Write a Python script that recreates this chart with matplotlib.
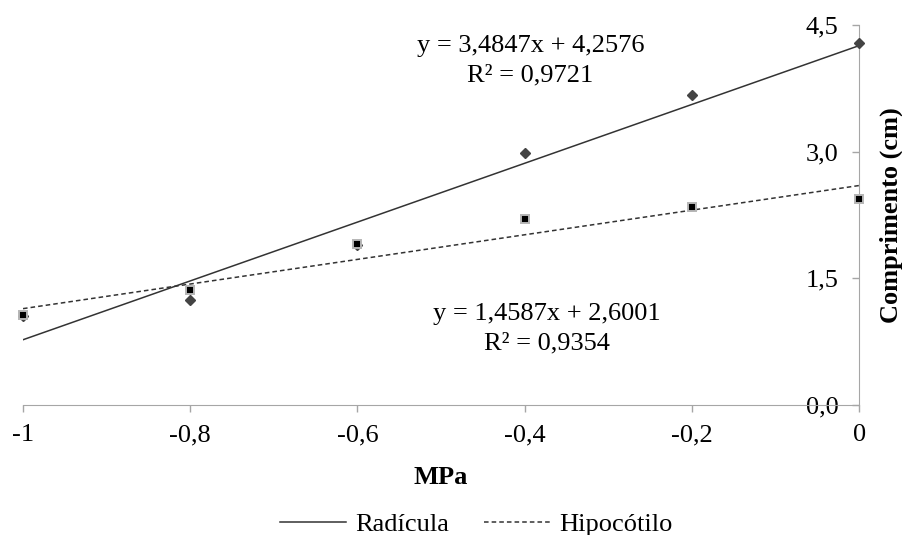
import matplotlib.pyplot as plt
import numpy as np

plt.rcParams["font.family"] = "Liberation Serif"
plt.rcParams["font.size"] = 19

# Potencial osmotico (MPa) e comprimento (cm)
mpa = [-1.0, -0.8, -0.6, -0.4, -0.2, 0.0]
radicula = [1.05, 1.24, 1.90, 2.99, 3.67, 4.29]
hipocotilo = [1.07, 1.36, 1.91, 2.20, 2.35, 2.44]

# Coeficientes das linhas de tendencia
rad_coef = (3.4847, 4.2576)
hip_coef = (1.4587, 2.6001)
rad_eq = "y = 3,4847x + 4,2576\nR² = 0,9721"
hip_eq = "y = 1,4587x + 2,6001\nR² = 0,9354"

x_ticks = [-1, -0.8, -0.6, -0.4, -0.2, 0]
x_labels = ["-1", "-0,8", "-0,6", "-0,4", "-0,2", "0"]
y_ticks = [0, 1.5, 3.0, 4.5]
y_labels = ["0,0", "1,5", "3,0", "4,5"]

fig = plt.figure(figsize=(9.02, 5.35), dpi=100)
ax = fig.add_axes([0.0255, 0.243, 0.927, 0.710])

xx = np.array([-1.0, 0.0])
ax.plot(xx, rad_coef[0] * xx + rad_coef[1], color="#333333", lw=1.1,
        label="Radícula", zorder=2)
ax.plot(xx, hip_coef[0] * xx + hip_coef[1], color="#333333", lw=1.1,
        dashes=(3, 2), label="Hipocótilo", zorder=2)

ax.plot(mpa, radicula, "D", color="#444444", markersize=5, ls="none",
        zorder=3, clip_on=False)
ax.plot(mpa, hipocotilo, "s", markerfacecolor="black", markeredgecolor="#b5b5b5",
        markeredgewidth=1.4, markersize=6, ls="none", zorder=4, clip_on=False)

# equacoes das linhas de tendencia
ax.text(-0.393, 4.08, rad_eq, ha="center", va="center", fontsize=19,
        linespacing=1.45, multialignment="center")
ax.text(-0.373, 0.90, hip_eq, ha="center", va="center", fontsize=19,
        linespacing=1.45, multialignment="center")

ax.set_xlim(-1, 0)
ax.set_ylim(0, 4.5)
ax.set_xticks(x_ticks)
ax.set_xticklabels(x_labels)
ax.set_yticks(y_ticks)
ax.set_yticklabels(y_labels)

for s in ["top", "right"]:
    ax.spines[s].set_visible(False)
ax.spines["left"].set_position(("data", 0))
ax.spines["left"].set_color("#a6a6a6")
ax.spines["bottom"].set_color("#a6a6a6")
ax.tick_params(axis="both", colors="#a6a6a6", labelcolor="black",
               length=5, width=1, labelsize=19)
ax.tick_params(axis="y", pad=10)
ax.tick_params(axis="x", pad=9)

ax.set_xlabel("MPa", fontweight="bold", fontsize=19, labelpad=14)
ax.yaxis.set_label_position("right")
ax.set_ylabel("Comprimento (cm)", fontweight="bold", fontsize=19, labelpad=15)

fig.legend(loc="center", bbox_to_anchor=(0.528, 0.02), ncol=2,
           frameon=False, fontsize=19, handlelength=2.5, handletextpad=0.35,
           columnspacing=1.3)

fig.savefig("out.png", dpi=100)
